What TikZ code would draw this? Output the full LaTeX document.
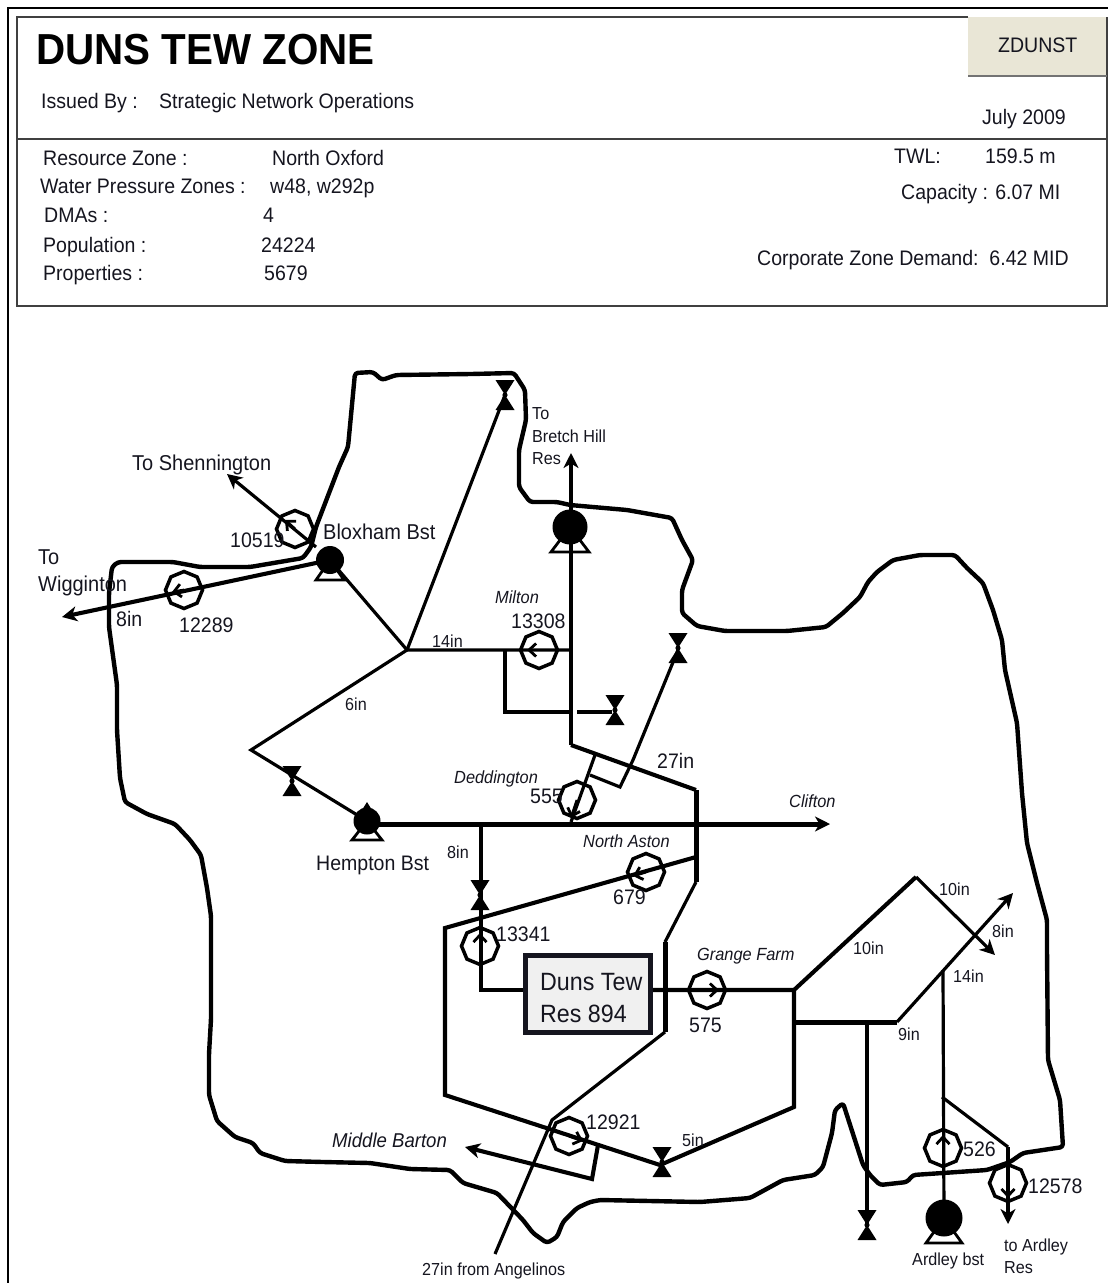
\documentclass[tikz,border=0pt]{standalone}
\usepackage{fontspec}
\setmainfont[FakeStretch=0.93]{Liberation Sans}
\usetikzlibrary{arrows.meta,shapes.geometric,calc}
\newcommand\fsz[1]{\fontsize{#1}{#1}\selectfont}
\definecolor{ink}{HTML}{15151F}
\definecolor{tagfill}{HTML}{E9E6D6}
\tikzset{
 lg/.style={anchor=base west,inner sep=0pt,text=ink,font=\fsz{21}},
 lh/.style={anchor=base west,inner sep=0pt,text=ink,font=\fsz{21.5}},
 sm/.style={anchor=base west,inner sep=0pt,text=ink,font=\fsz{17.4}},
 smit/.style={anchor=base west,inner sep=0pt,text=ink,font=\fsz{17.6}\itshape},
 pipeA/.style={line width=3.2pt,line join=miter},
 pipeB/.style={line width=4.1pt,line join=miter},
 pipeC/.style={line width=5pt,line join=miter},
 flow/.style={-{Stealth[length=15pt,width=15pt,inset=4.5pt]}},
 meter/.style={regular polygon,regular polygon sides=8,shape border rotate=22.5,draw=black,line width=3.5pt,inner sep=0pt,minimum size=37pt},
 marrow/.style={line width=2.8pt,-{Straight Barb[length=7pt,width=13pt]}},
 boundary/.style={line width=4.4pt,line join=round,line cap=round,rounded corners=3pt},
 resbox/.style={draw=ink,fill=black!6,line width=4.6pt,minimum width=125pt,minimum height=77pt,anchor=north west,inner sep=0pt},
 tagbox/.style={fill=tagfill,minimum width=138pt,minimum height=59pt,anchor=north west,inner sep=0pt},
 rule/.style={draw=black!75,line width=1.3pt},
 pumpbase/.style={draw=black,line width=2.8pt,line join=miter,fill=white},
 pumpbody/.style={circle,fill=black,inner sep=0pt}
}
% valve: black bow-tie around a named coordinate
\newcommand\valve[3]{\coordinate (#1) at (#2,#3);
 \fill[black] ($(#1)+(-9.5,-15)$) -- ($(#1)+(9.5,-15)$) -- ($(#1)+(-9.5,15)$) -- ($(#1)+(9.5,15)$) -- cycle;
 \fill[black] (#1) circle (2.6pt);}
% pump: name, x, y, body diameter, half base, base offset
\newcommand\pump[6]{\coordinate (#1c) at (#2,#3);
 \draw[pumpbase] ($(#1c)+(-#5,#6)$) -- ($(#1c)+(#5,#6)$) -- (#1c) -- cycle;
 \node[pumpbody,minimum size=#4pt] (#1) at (#1c) {};}
\begin{document}
\begin{tikzpicture}[x=1pt,y=-1pt]
\useasboundingbox (0,0) rectangle (1108,1283);
% ---------- header frames
\coordinate (oa) at (1108,8); \coordinate (ob) at (8,8); \coordinate (oc) at (8,1283);
\draw[line width=2.4pt,line join=miter] (oa) -- (ob) -- (oc);
\node[tagbox] (tag) at (968,17) {};
\coordinate (ha) at (968,17); \coordinate (hb) at (17,17); \coordinate (hc) at (17,306);
\coordinate (hd) at (1107,306); \coordinate (he) at (1107,17);
\coordinate (hf) at (17,139); \coordinate (hg) at (1107,139);
\coordinate (ti) at (968,76); \coordinate (tj) at (1107,76);
\draw[rule] (ha) -- (hb) -- (hc) -- (hd) -- (he);
\draw[rule] (hf) -- (hg);
\draw[draw=black!55,line width=1.2pt] (ti) -- (tj);
\node[anchor=base west,inner sep=0pt,font=\fsz{43.4}\bfseries] (title) at (36,64.5) {DUNS TEW ZONE};
\node[lg] (h1) at (41,108) {Issued By :};
\node[lg] (h2) at (159,108) {Strategic Network Operations};
\node[lg] (h3) at (998,52) {ZDUNST};
\node[lg] (h4) at (982,124) {July 2009};
\node[lg] (h5) at (43,165) {Resource Zone :};
\node[lg] (h6) at (272,165) {North Oxford};
\node[lg] (h7) at (40,193) {Water Pressure Zones :};
\node[lg] (h8) at (270,193) {w48, w292p};
\node[lg] (h9) at (44,222) {DMAs :};
\node[lg] (h10) at (263,222) {4};
\node[lg] (h11) at (43,252) {Population :};
\node[lg] (h12) at (261,252) {24224};
\node[lg] (h13) at (43,280) {Properties :};
\node[lg] (h14) at (264,280) {5679};
\node[lg] (h15) at (894,163) {TWL:};
\node[lg] (h16) at (985,163) {159.5 m};
\node[lg] (h17) at (901,199) {Capacity : 6.07 MI};
\node[lg] (h18) at (757,265) {Corporate Zone Demand:\ \ 6.42 MID};
% ---------- zone boundary
\draw[boundary] (355,373) -- (373,372) -- (382,380) -- (396,375) -- (471,374) -- (514,373) -- (525,390) -- (526,420) -- (519,450) -- (519,487) -- (530,502) -- (557,502) -- (570,505) -- (627,510) -- (672,518) -- (682,540) -- (693,560) -- (682,590) -- (682,613) -- (697,626) -- (725,631) -- (787,631) -- (826,627) -- (843,613) -- (860,597) -- (868,582) -- (877,572) -- (893,560) -- (920,555) -- (955,555) -- (967,568) -- (983,583) -- (993,610) -- (1002,640) -- (1005,670) -- (1017,723) -- (1022,793) -- (1027,843) -- (1037,883) -- (1047,920) -- (1047,950) -- (1048,1060) -- (1060,1100) -- (1063,1147) -- (1023,1153) -- (1010,1162) -- (987,1170) -- (913,1175) -- (907,1182) -- (880,1185) -- (870,1175) -- (863,1165) -- (843,1103) -- (835,1110) -- (832,1133) -- (823,1167) -- (815,1175) -- (783,1180) -- (750,1198) -- (700,1202) -- (600,1200) -- (590,1202) -- (577,1208) -- (563,1222) -- (557,1237) -- (547,1243) -- (533,1233) -- (523,1220) -- (497,1193) -- (463,1183) -- (450,1170) -- (410,1169) -- (370,1163) -- (323,1162) -- (285,1161) -- (260,1153) -- (253,1143) -- (235,1137) -- (217,1121) -- (209,1095) -- (209,1054) -- (211,1019) -- (211,916) -- (207,888) -- (201,855) -- (190,840) -- (175,824) -- (147,814) -- (125,802) -- (120,778) -- (117,730) -- (117,685) -- (109,627) -- (109,593) -- (112,567) -- (118,562) -- (173,562) -- (200,567) -- (250,567) -- (303,558) -- (311,547) -- (316,527) -- (339,467) -- (348,447) -- cycle;
% ---------- waypoints
\coordinate (j1) at (407,650);
\coordinate (j2) at (251,750);
\coordinate (w1) at (62,617);
\coordinate (s1) at (227,474);
\coordinate (s2) at (316,547);
\coordinate (c0) at (367,824);
\coordinate (c1) at (830,824);
\coordinate (k1) at (481,824);
\coordinate (k2) at (481,990);
\coordinate (r1) at (524,990);
\coordinate (a1) at (445,928);
\coordinate (a2) at (696,857);
\coordinate (a3) at (445,1095);
\coordinate (a4) at (660,1165);
\coordinate (a5) at (794,1107);
\coordinate (a6) at (794,990);
\coordinate (r2) at (651,990);
\coordinate (b1) at (916,877);
\coordinate (b2) at (995,955);
\coordinate (d1) at (794,1022);
\coordinate (d2) at (897,1022);
\coordinate (d3) at (1013,893);
\coordinate (d4) at (943,970);
\coordinate (e1) at (867,1022);
\coordinate (g1) at (495,1254);
\coordinate (g2) at (552,1120);
\coordinate (g3) at (665,1032);
\coordinate (g4) at (665,942);
\coordinate (g5) at (696,882);
\coordinate (g6) at (696,790);
\coordinate (g7) at (571,745);
\coordinate (g8) at (571,453);
\coordinate (n1) at (505,650);
\coordinate (n2) at (505,712);
\coordinate (n3) at (569,712);
\coordinate (n4) at (577,712);
\coordinate (n5) at (612,712);
\coordinate (q1) at (595,755);
\coordinate (q2) at (571,822);
\coordinate (q3) at (590,775);
\coordinate (q4) at (620,787);
\coordinate (q5) at (633,760);
\coordinate (q6) at (678,650);
\coordinate (u1) at (598,1145);
\coordinate (u2) at (592,1179);
\coordinate (u3) at (465,1147);
\coordinate (v1) at (942,1097);
\coordinate (v2) at (1008,1147);
\coordinate (v3) at (1008,1224);
\coordinate (j3) at (570,650);
% ---------- pumps and valves
\pump{pblox}{330}{560}{28}{14}{20}
\pump{phem}{367}{821}{27}{15}{19}
\fill[black] (362,810) -- (367,802) -- (372,810) -- cycle;
\pump{pbret}{570}{527}{35}{19}{25}
\pump{pard}{944}{1218}{37}{18}{25}
\valve{v505}{505}{395}
\valve{v678}{678}{648}
\valve{v615}{615}{710}
\valve{v292}{292}{781}
\valve{v480}{480}{895}
\valve{v661}{662}{1162}
\valve{v867}{867}{1225}
% ---------- pipes
\draw[pipeA] (j3) -- (j1) -- (v505);
\draw[pipeA] (j1) -- (pbloxc);
\draw[pipeA] (j1) -- (j2) -- (phemc);
\draw[pipeB,flow] (pbloxc) -- (w1);
\draw[pipeA,flow] (s2) -- (s1);
\draw[pipeC,flow] (c0) -- (c1);
\draw[pipeB] (k1) -- (k2) -- (r1);
\draw[pipeB] (a2) -- (a1) -- (a3) -- (a4) -- (a5) -- (a6);
\draw[pipeB] (r2) -- (a6) -- (b1);
\draw[pipeA,flow] (b1) -- (b2);
\draw[pipeC] (d1) -- (d2);
\draw[pipeA,flow] (d2) -- (d3);
\draw[pipeA] (d4) -- (pardc);
\draw[pipeB] (e1) -- (v867);
\draw[pipeA] (g1) -- (g2) -- (g3);
\draw[pipeC] (g3) -- (g4);
\draw[pipeA] (g4) -- (g5);
\draw[pipeC] (g5) -- (g6);
\draw[pipeB] (g6) -- (g7);
\draw[pipeA,flow] (g7) -- (g8);
\draw[pipeB] (n1) -- (n2) -- (n3);
\draw[pipeB] (n4) -- (n5);
\draw[pipeA] (q1) -- (q2);
\draw[pipeA] (q3) -- (q4) -- (q5) -- (q6);
\draw[pipeB,flow] (u1) -- (u2) -- (u3);
\draw[pipeA] (v1) -- (v2);
\draw[pipeB,flow] (v2) -- (v3);
% ---------- reservoir
\node[resbox] (res) at (523,953) {};
\node[anchor=base west,inner sep=0pt,text=ink,font=\fsz{25}] (res1) at (540,990) {Duns Tew};
\node[anchor=base west,inner sep=0pt,text=ink,font=\fsz{25}] (res2) at (540,1022) {Res 894};
% ---------- meters
\node[meter] (m12289) at (184,590) {};
\node[meter] (m10519) at (295,529) {};
\node[meter] (m13308) at (539,650) {};
\node[meter] (m555) at (577,800) {};
\node[meter] (m679) at (646,872) {};
\node[meter] (m13341) at (480,946) {};
\node[meter] (m575) at (707,990) {};
\node[meter] (m12921) at (569,1136) {};
\node[meter] (m526) at (943,1148) {};
\node[meter] (m12578) at (1008,1183) {};
\draw[marrow] (m12289.center) -- ++(-12,2);
\draw[marrow] (m10519.center) -- ++(-10,-9);
\draw[marrow] (m13308.center) -- ++(-12,0);
\draw[marrow] (m555.center) -- ++(-6,18);
\draw[marrow] (m679.center) -- ++(-13,4);
\draw[marrow] (m13341.center) -- ++(0,-13);
\draw[marrow] (m575.center) -- ++(12,0);
\draw[marrow] (m12921.center) -- ++(14,5);
\draw[marrow] (m526.center) -- ++(0,-13);
\draw[marrow] (m12578.center) -- ++(0,15);
% ---------- labels
\node[lh] (t1) at (132,470) {To Shennington};
\node[lg] (t2) at (230,547) {10519};
\node[lh] (t3) at (323,539) {Bloxham Bst};
\node[lh] (t4) at (38,564) {To};
\node[lh] (t5) at (38,591) {Wigginton};
\node[lg] (t6) at (116,626) {8in};
\node[lg] (t7) at (179,632) {12289};
\node[sm] (t8) at (532,419) {To};
\node[sm] (t9) at (532,442) {Bretch Hill};
\node[sm] (t10) at (532,464) {Res};
\node[smit] (t11) at (495,603) {Milton};
\node[lg] (t12) at (511,628) {13308};
\node[sm] (t13) at (432,647) {14in};
\node[sm] (t14) at (345,710) {6in};
\node[lg] (t15) at (657,768) {27in};
\node[smit] (t16) at (454,783) {Deddington};
\node[lg] (t17) at (530,803) {555};
\node[smit] (t18) at (789,807) {Clifton};
\node[smit] (t19) at (583,847) {North Aston};
\node[lg] (t20) at (613,904) {679};
\node[sm] (t21) at (447,858) {8in};
\node[lg] (t22) at (316,870) {Hempton Bst};
\node[lg] (t23) at (496,941) {13341};
\node[smit] (t24) at (697,960) {Grange Farm};
\node[lg] (t25) at (689,1032) {575};
\node[sm] (t26) at (939,895) {10in};
\node[sm] (t27) at (853,954) {10in};
\node[sm] (t28) at (992,937) {8in};
\node[sm] (t29) at (953,982) {14in};
\node[sm] (t30) at (898,1040) {9in};
\node[lg] (t31) at (586,1129) {12921};
\node[sm] (t32) at (682,1146) {5in};
\node[anchor=base west,inner sep=0pt,text=ink,font=\fsz{20}\itshape] (t33) at (332,1147) {Middle Barton};
\node[sm] (t34) at (422,1275) {27in from Angelinos};
\node[lg] (t35) at (963,1156) {526};
\node[lg] (t36) at (1028,1193) {12578};
\node[sm] (t37) at (912,1265) {Ardley bst};
\node[sm] (t38) at (1004,1251) {to Ardley};
\node[sm] (t39) at (1004,1273) {Res};
\end{tikzpicture}
\end{document}
